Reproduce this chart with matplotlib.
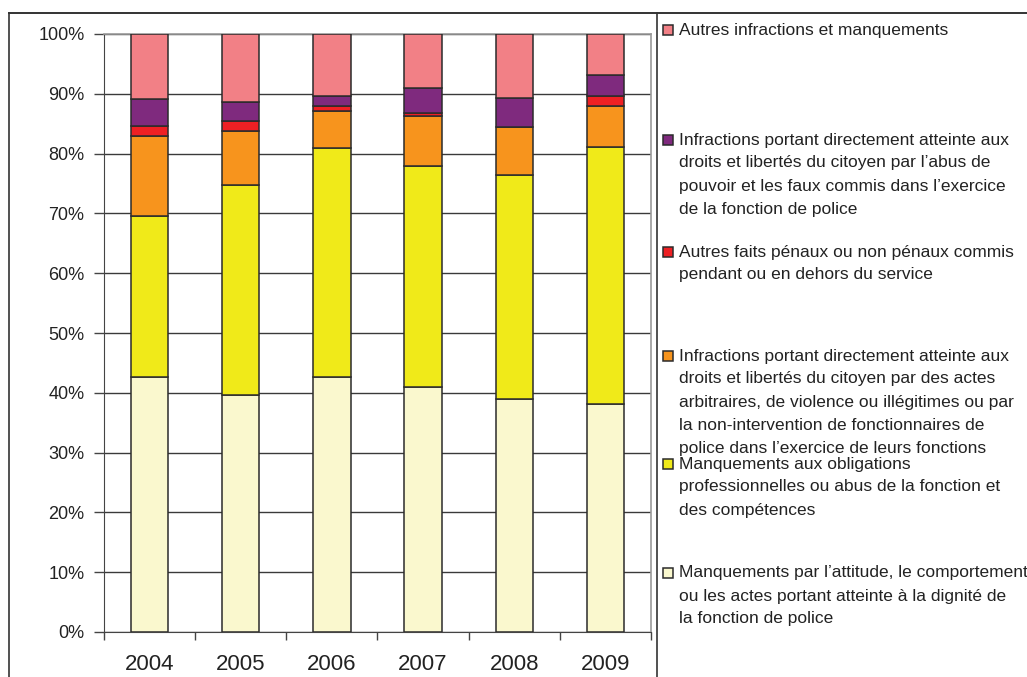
import matplotlib
matplotlib.use("Agg")
import matplotlib.pyplot as plt
from matplotlib.lines import Line2D
from matplotlib.patches import Rectangle
import numpy as np

plt.rcParams['font.family'] = ['Liberation Sans', 'DejaVu Sans']

years = ["2004", "2005", "2006", "2007", "2008", "2009"]

# Shares (%) per category, bottom to top of each stacked bar
attitude = [42.6, 39.6, 42.6, 41.0, 39.0, 38.2]
obligations = [27.0, 35.2, 38.3, 36.9, 37.5, 42.9]
arbitraires = [13.4, 9.0, 6.3, 8.4, 7.9, 6.8]
autres_faits = [1.6, 1.7, 0.7, 0.5, 0.0, 1.7]
abus_pouvoir = [4.5, 3.1, 1.7, 4.2, 4.9, 3.6]
autres_infr = [10.9, 11.4, 10.4, 9.0, 10.7, 6.8]

series = [attitude, obligations, arbitraires, autres_faits, abus_pouvoir, autres_infr]
colors = ["#FAF8CE", "#F0EA19", "#F7941D", "#EE2024", "#7F2A7E", "#F28086"]

legend_labels = [
    ["Manquements par l’attitude, le comportement",
     "ou les actes portant atteinte à la dignité de",
     "la fonction de police"],
    ["Manquements aux obligations",
     "professionnelles ou abus de la fonction et",
     "des compétences"],
    ["Infractions portant directement atteinte aux",
     "droits et libertés du citoyen par des actes",
     "arbitraires, de violence ou illégitimes ou par",
     "la non-intervention de fonctionnaires de",
     "police dans l’exercice de leurs fonctions"],
    ["Autres faits pénaux ou non pénaux commis",
     "pendant ou en dehors du service"],
    ["Infractions portant directement atteinte aux",
     "droits et libertés du citoyen par l’abus de",
     "pouvoir et les faux commis dans l’exercice",
     "de la fonction de police"],
    ["Autres infractions et manquements"],
]
# first-line vertical position of each legend entry (pixels from top)
legend_y = [573, 464, 356, 252, 140, 30]

W, H = 1027, 677
fig = plt.figure(figsize=(W / 100, H / 100), dpi=100)
ax = fig.add_axes([104 / W, (H - 632) / H, 547 / W, 598 / H])

x = np.arange(len(years))
bottom = np.zeros(len(years))
for vals, col in zip(series, colors):
    v = np.array(vals)
    ax.bar(x, v, 0.41, bottom=bottom, color=col, edgecolor="#2b2b2b",
           linewidth=1.1, zorder=3)
    bottom += v

ax.set_xlim(-0.5, len(years) - 0.5)
ax.set_ylim(0, 100)
ax.set_yticks(np.arange(0, 101, 10))
ax.set_yticklabels([f"{t}%" for t in range(0, 101, 10)], fontsize=13, color="#222222")
ax.yaxis.grid(True, color="#3a3a3a", linewidth=1.0, zorder=0)
ax.tick_params(axis="y", length=7, width=1, color="#444444", pad=7)

ax.set_xticks(x)
ax.set_xticklabels(years, fontsize=16, color="#222222")
ax.set_xticks(np.arange(-0.5, len(years)), minor=True)
ax.tick_params(axis="x", which="major", length=0, pad=16)
ax.tick_params(axis="x", which="minor", length=6, width=1, color="#444444")

for side in ["top", "right"]:
    ax.spines[side].set_color("#9a9a9a")
    ax.spines[side].set_linewidth(1.2)
ax.spines["left"].set_color("#444444")
ax.spines["bottom"].set_color("#444444")

# Outer frame and legend panel
def fx(px):
    return px / W

def fy(py):
    return 1 - py / H

fig.add_artist(Line2D([fx(9), fx(9)], [fy(13), 0], color="#333333", linewidth=1.2))
fig.add_artist(Line2D([fx(9), 1], [fy(13), fy(13)], color="#333333", linewidth=1.4))
fig.add_artist(Line2D([fx(657), fx(657)], [fy(13), 0], color="#333333", linewidth=1.2))

line_h = 23
for lines, col, y0 in zip(legend_labels, colors, legend_y):
    fig.add_artist(Rectangle((fx(663), fy(y0 + 5)), 10 / W, 10 / H,
                             facecolor=col, edgecolor="#2b2b2b", linewidth=1.1))
    for i, ln in enumerate(lines):
        fig.text(fx(679), fy(y0 + i * line_h), ln, fontsize=12.5,
                 color="#222222", va="center", ha="left")

fig.savefig("out.png", dpi=100)
